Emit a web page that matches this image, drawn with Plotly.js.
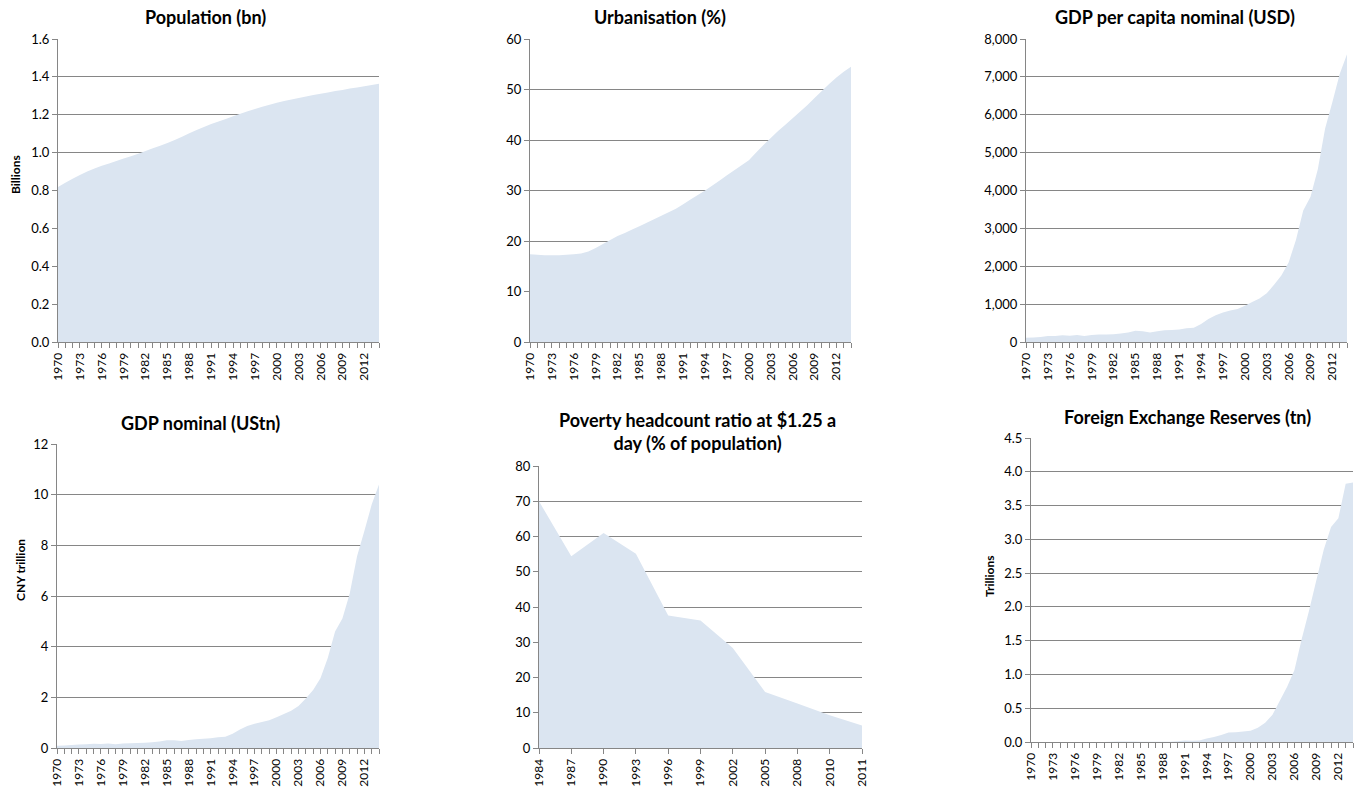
<!DOCTYPE html>
<html><head><meta charset="utf-8">
<script src="https://cdn.plot.ly/plotly-3.0.1.min.js"></script>
<style>html,body{margin:0;padding:0;background:#fff}#chart{width:1366px;height:789px}</style>
</head><body><div id="chart"></div>
<script>
// ---------- DATA ----------
const years = [1970,1971,1972,1973,1974,1975,1976,1977,1978,1979,
  1980,1981,1982,1983,1984,1985,1986,1987,1988,1989,
  1990,1991,1992,1993,1994,1995,1996,1997,1998,1999,
  2000,2001,2002,2003,2004,2005,2006,2007,2008,2009,
  2010,2011,2012,2013,2014];

const population = [0.818,0.841,0.862,0.882,0.900,0.916,0.931,0.943,0.956,0.969,
  0.981,0.994,1.009,1.023,1.036,1.051,1.067,1.084,1.102,1.119,
  1.135,1.151,1.165,1.178,1.192,1.205,1.218,1.230,1.242,1.253,
  1.263,1.272,1.280,1.288,1.296,1.304,1.311,1.318,1.325,1.331,
  1.338,1.344,1.351,1.357,1.364];

const urbanisation = [17.4,17.3,17.2,17.2,17.2,17.3,17.4,17.5,17.9,18.6,
  19.4,20.2,21.0,21.6,22.3,22.9,23.6,24.3,25.0,25.7,
  26.4,27.3,28.2,29.1,30.0,31.0,32.0,33.0,34.0,35.0,
  36.0,37.5,39.0,40.4,41.8,43.0,44.3,45.6,46.9,48.3,
  49.7,51.1,52.4,53.5,54.5];

const gdpPerCapita = [113,118,131,157,160,178,165,185,156,184,
  195,197,203,225,251,294,281,252,284,311,
  318,333,366,377,473,610,709,782,829,873,
  959,1053,1149,1289,1509,1753,2099,2695,3471,3838,
  4560,5634,6337,7078,7600];

const gdpNominal = [0.093,0.100,0.114,0.139,0.144,0.163,0.154,0.175,0.150,0.178,
  0.191,0.196,0.205,0.230,0.260,0.309,0.301,0.273,0.312,0.348,
  0.361,0.383,0.427,0.445,0.564,0.734,0.864,0.962,1.029,1.094,
  1.211,1.339,1.471,1.660,1.955,2.286,2.752,3.552,4.598,5.110,
  6.101,7.573,8.561,9.607,10.40];

const fxReserves = [0,0,0,0,0,0,0,0.0002,0.0002,0.0008,
  0,0.0027,0.0070,0.0089,0.0082,0.0026,0.0021,0.0029,0.0034,0.0055,
  0.0111,0.0217,0.0194,0.0212,0.0516,0.0736,0.1050,0.1399,0.1450,0.1547,
  0.1656,0.2122,0.2864,0.4033,0.6099,0.8189,1.0663,1.5282,1.9460,2.3992,
  2.8473,3.1811,3.3116,3.8213,3.8430];

const povertyYears = ['1984','1987','1990','1993','1996','1999','2002','2005','2008','2010','2011'];
const povertyRatio = [70.0,54.4,61.0,55.1,37.6,36.2,28.4,15.9,12.6,9.3,6.4];

const titles = ['Population (bn)','Urbanisation (%)','GDP per capita nominal (USD)',
  'GDP nominal (UStn)','Poverty headcount ratio at $1.25 a<br>day (% of population)','Foreign Exchange Reserves (tn)'];
const yTitles = ['Billions','CNY trillion','Trillions'];

// ---------- STYLE ----------
const W = 1366, H = 789;
const FONT = 'Lato, "Open Sans", sans-serif';
const FILL = '#DBE5F1';
const GRID = '#868686';
const px = v => v / W;
const py = v => 1 - v / H;

const yearLabels = years.map(y => ((y - 1970) % 3 === 0 && y <= 2012) ? String(y) : '');

function xYear(l, r, anchor) {
  return {domain:[px(l), px(r)], range:[1970, 2014], type:'linear', anchor,
    tickmode:'array', tickvals:years, ticktext:yearLabels, tickangle:-90,
    ticks:'outside', ticklen:5, tickcolor:GRID, showline:true, linecolor:GRID, linewidth:1,
    showgrid:false, zeroline:false, tickfont:{family:FONT, size:12, color:'#000'}, fixedrange:true};
}
function yAx(t, b, range, dtick, fmt, anchor) {
  return {domain:[py(b), py(t)], range, dtick, tick0:0, tickformat:fmt, anchor,
    ticks:'outside', ticklen:5, tickcolor:GRID, showline:true, linecolor:GRID, linewidth:1,
    showgrid:true, gridcolor:GRID, gridwidth:1, zeroline:false,
    tickfont:{family:FONT, size:13, color:'#000'}, fixedrange:true};
}

const area = (x, y, xa, ya) => ({x, y, xaxis:xa, yaxis:ya, type:'scatter', mode:'none',
  fill:'tozeroy', fillcolor:FILL, hoverinfo:'skip', showlegend:false});

const data = [
  area(years, population, 'x', 'y'),
  area(years, urbanisation, 'x2', 'y2'),
  area(years, gdpPerCapita, 'x3', 'y3'),
  area(years, gdpNominal, 'x4', 'y4'),
  area(povertyYears, povertyRatio, 'x5', 'y5'),
  area(years, fxReserves, 'x6', 'y6')
];

const povX = {domain:[px(539), px(862)], type:'category', range:[0, povertyYears.length - 1], anchor:'y5',
  tickangle:-90, ticks:'outside', ticklen:5, tickcolor:GRID, showline:true, linecolor:GRID, linewidth:1,
  showgrid:false, zeroline:false, tickfont:{family:FONT, size:12, color:'#000'}, fixedrange:true};

function title(text, x, y) {
  return {text, x:px(x), y:py(y), xref:'paper', yref:'paper', showarrow:false,
    xanchor:'center', yanchor:'middle', font:{family:FONT, size:18, color:'#000', weight:'bold'}};
}
function ytitle(text, x, y) {
  return {text:'<b>'+text+'</b>', x:px(x), y:py(y), xref:'paper', yref:'paper', showarrow:false,
    textangle:-90, xanchor:'center', yanchor:'middle', font:{family:FONT, size:12, color:'#000'}};
}

const layout = {
  width:W, height:H, margin:{l:0, r:0, t:0, b:0},
  paper_bgcolor:'#fff', plot_bgcolor:'#fff', showlegend:false,
  xaxis:xYear(58, 379, 'y'),   yaxis:yAx(39, 342, [0, 1.6], 0.2, '.1f', 'x'),
  xaxis2:xYear(530, 851, 'y2'), yaxis2:yAx(39, 342, [0, 60], 10, 'd', 'x2'),
  xaxis3:xYear(1026, 1347, 'y3'), yaxis3:yAx(39, 342, [0, 8000], 1000, ',d', 'x3'),
  xaxis4:xYear(57, 379, 'y4'),   yaxis4:yAx(444, 748, [0, 12], 2, 'd', 'x4'),
  xaxis5:povX,                   yaxis5:yAx(466, 748, [0, 80], 10, 'd', 'x5'),
  xaxis6:xYear(1031, 1353, 'y6'), yaxis6:yAx(438, 742, [0, 4.5], 0.5, '.1f', 'x6'),
  annotations:[
    title(titles[0], 205, 17),
    title(titles[1], 660, 17),
    title(titles[2], 1175, 17),
    title(titles[3], 200, 423),
    title(titles[4], 697, 431),
    title(titles[5], 1187, 417),
    ytitle(yTitles[0], 16, 175),
    ytitle(yTitles[1], 20, 570),
    ytitle(yTitles[2], 989, 577)
  ]
};

Plotly.newPlot('chart', data, layout, {staticPlot:true, displayModeBar:false});
</script>
</body></html>
